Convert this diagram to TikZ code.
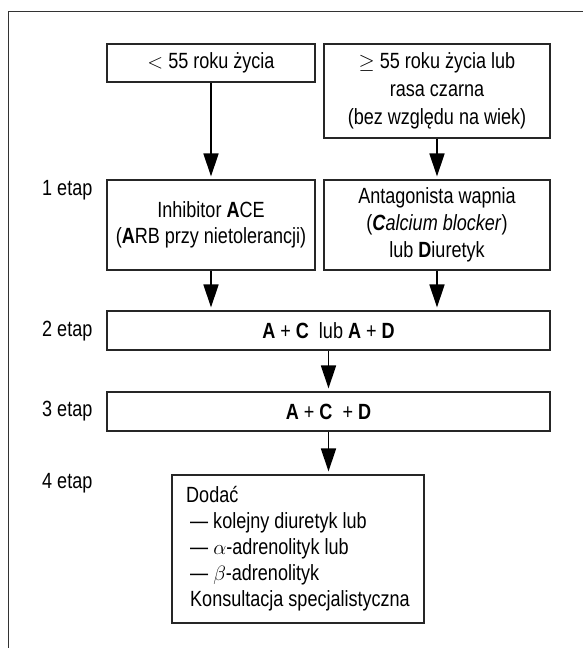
\documentclass[tikz,border=0pt]{standalone}
\usepackage{fontspec}
\setmainfont{Liberation Sans}[FakeStretch=0.82]
\usetikzlibrary{arrows.meta}

\begin{document}
\begin{tikzpicture}[x=1pt, y=-1pt,
  box/.style={draw=black!85, line width=1.1pt, inner sep=0pt, align=center,
    font=\fontsize{22}{26}\selectfont},
  etap/.style={anchor=west, inner sep=0pt, font=\fontsize{22}{26}\selectfont},
  arr/.style={-{Triangle[length=23pt, width=15pt]}, line width=1.6pt, shorten >=3pt}]
\useasboundingbox (0,0) rectangle (583,648);
\draw[black!80, line width=1.3pt] (8.6,648) -- (8.6,11.5) -- (583,11.5);
% wiek
\node[box, minimum width=208pt, minimum height=38pt] (young) at (211,63) {$<$ 55 roku życia};
\node[box, minimum width=226pt, minimum height=94pt, font=\fontsize{22}{28}\selectfont] (old) at (437,91)
  {$\geq$ 55 roku życia lub\\ rasa czarna\\ (bez względu na wiek)};
% etapy
\node[box, minimum width=208pt, minimum height=90pt] (ace) at (211,225)
  {Inhibitor \textbf{A}CE\\ (\textbf{A}RB przy nietolerancji)};
\node[box, minimum width=226pt, minimum height=90pt, font=\fontsize{22}{27}\selectfont] (ccb) at (437,225)
  {Antagonista wapnia\\ (\textbf{\textit{C}}\textit{alcium blocker})\\ lub \textbf{D}iuretyk};
\node[box, minimum width=443pt, minimum height=39pt] (dual) at (328.5,330.5)
  {\textbf{A} + \textbf{C}\ \ lub \textbf{A} + \textbf{D}};
\node[box, minimum width=443pt, minimum height=39pt] (triple) at (328.5,411.5)
  {\textbf{A} + \textbf{C}\ \ + \textbf{D}};
\node[box, minimum width=252pt, minimum height=148pt, align=left] (extra) at (298,549)
  {Dodać\\ \hspace*{4pt}— kolejny diuretyk lub\\ \hspace*{4pt}— $\alpha$-adrenolityk lub\\
   \hspace*{4pt}— $\beta$-adrenolityk\\ \hspace*{4pt}Konsultacja specjalistyczna};
\node[etap] (e1) at (42,190) {1 etap};
\node[etap] (e2) at (42,331) {2 etap};
\node[etap] (e3) at (42,411) {3 etap};
\node[etap] (e4) at (42,483) {4 etap};
% strzalki
\draw[arr] (young.south) -- (ace.north);
\draw[arr] (old.south) -- (ccb.north);
\draw[arr] (ace.south) -- (ace.south |- dual.north);
\draw[arr] (ccb.south) -- (ccb.south |- dual.north);
\draw[arr] (dual.south) -- (triple.north);
\draw[arr] (triple.south) -- (triple.south |- extra.north);
\end{tikzpicture}
\end{document}
